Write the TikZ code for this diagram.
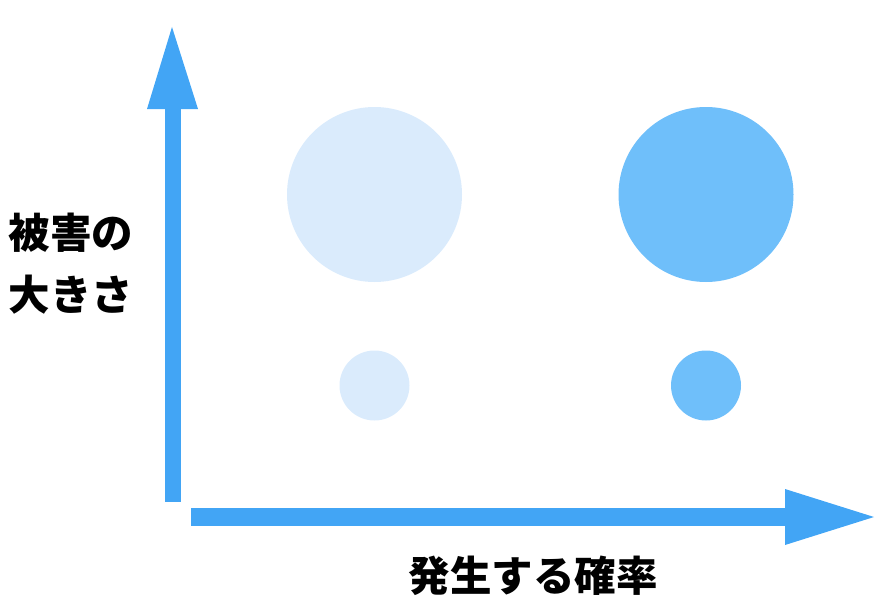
\documentclass[tikz,border=0pt]{standalone}
\usepackage{fontspec}
\newfontfamily\cjk{Noto Sans CJK JP}
\definecolor{axisblue}{HTML}{42A5F5}
\definecolor{lightc}{HTML}{DAEBFC}
\definecolor{darkc}{HTML}{6FBFFA}
\begin{document}
\begin{tikzpicture}[x=1pt,y=-1pt,
  axis/.style={fill=axisblue,draw=none},
  bub/.style={circle,draw=none,inner sep=0pt},
  lbl/.style={font=\cjk\bfseries\fontsize{41.5}{62}\selectfont,text=black,inner sep=0pt,align=center}]
\useasboundingbox (0,0) rectangle (886,610);
% vertical axis
\fill[axis] (165,502) rectangle (181,108);
\fill[axis] (147,109) -- (172,27) -- (198,109) -- cycle;
% horizontal axis
\fill[axis] (191,508) rectangle (786,526);
\fill[axis] (785,489) -- (874,517) -- (785,545) -- cycle;
% bubbles
\node[bub,fill=lightc,minimum size=175pt] (bl) at (374.5,194.5) {};
\node[bub,fill=darkc,minimum size=175pt] (bd) at (706,194.5) {};
\node[bub,fill=lightc,minimum size=70pt] (sl) at (374.5,385.5) {};
\node[bub,fill=darkc,minimum size=70pt] (sd) at (706,385.5) {};
% labels
\node[lbl] (ylab) at (71,264) {被害の\\大きさ};
\node[lbl] (xlab) at (533,576) {発生する確率};
\end{tikzpicture}
\end{document}
